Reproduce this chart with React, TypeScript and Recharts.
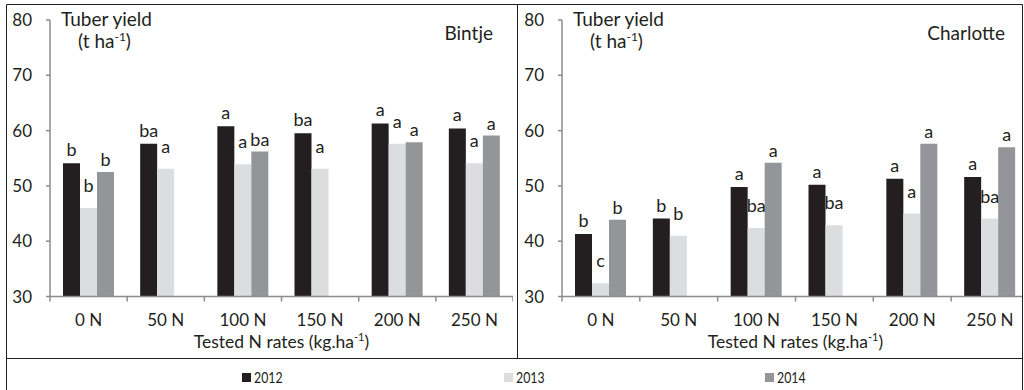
import React from 'react';
import { BarChart, Bar, XAxis, YAxis, LabelList } from 'recharts';

// ---------- data ----------
const categories = ['0 N', '50 N', '100 N', '150 N', '200 N', '250 N'];
const years = ['2012', '2013', '2014'];
const yTicks = [30, 40, 50, 60, 70, 80];

const bintje2012 = [54.1, 57.6, 60.8, 59.5, 61.3, 60.4];
const bintje2013 = [46.0, 53.1, 53.9, 53.1, 57.6, 54.1];
const bintje2014 = [52.5, null, 56.2, null, 57.9, 59.1];
const bintjeLetters2012 = ['b', 'ba', 'a', 'ba', 'a', 'a'];
const bintjeLetters2013 = ['b', 'a', 'a', 'a', 'a', 'a'];
const bintjeLetters2014 = ['b', '', 'ba', '', 'a', 'a'];

const charlotte2012 = [41.3, 44.1, 49.8, 50.2, 51.3, 51.6];
const charlotte2013 = [32.4, 41.0, 42.4, 42.9, 45.0, 44.1];
const charlotte2014 = [43.9, null, 54.2, null, 57.6, 57.0];
const charlotteLetters2012 = ['b', 'b', 'a', 'a', 'a', 'a'];
const charlotteLetters2013 = ['c', 'b', 'ba', 'ba', 'a', 'ba'];
const charlotteLetters2014 = ['b', '', 'a', '', 'a', 'a'];

// ---------- style ----------
const FONT = 'Lato, "Noto Sans", sans-serif';
const TEXT = '#231f20';
const AXIS = '#8c8c8c';
const COLORS = ['#231f20', '#dcdddf', '#939598'];
const LABEL_OFFSETS = [7, 16, 6];

type Row = Record<string, any>;

function buildRows(
  v12: (number | null)[], v13: (number | null)[], v14: (number | null)[],
  l12: string[], l13: string[], l14: string[]
): Row[] {
  return categories.map((c, i) => ({
    cat: c,
    y2012: v12[i], y2013: v13[i], y2014: v14[i],
    l2012: l12[i], l2013: l13[i], l2014: l14[i],
  }));
}

const bintjeRows = buildRows(bintje2012, bintje2013, bintje2014, bintjeLetters2012, bintjeLetters2013, bintjeLetters2014);
const charlotteRows = buildRows(charlotte2012, charlotte2013, charlotte2014, charlotteLetters2012, charlotteLetters2013, charlotteLetters2014);

const CHART_H = 358;
const Y_AXIS_W = 50;
const TOP = 20;
const X_AXIS_H = 61.5;

function makeXTick(band: number, count: number) {
  return (props: any) => {
    const { x, y, payload, index } = props;
    const marks = [x - band / 2];
    if (index === count - 1) marks.push(x + band / 2);
    return (
      <g>
        {marks.map((mx, k) => (
          <line key={k} x1={mx} x2={mx} y1={y} y2={y + 5} stroke={AXIS} strokeWidth={1.5} />
        ))}
        <text x={x} y={y + 29.5} textAnchor="middle" fill={TEXT} fontSize={17} fontFamily={FONT}>
          {payload.value}
        </text>
      </g>
    );
  };
}

function XTitle(props: any) {
  const vb = props.viewBox || {};
  const cx = vb.x + vb.width / 2;
  const y = vb.y + 51;
  return (
    <text x={cx} y={y} textAnchor="middle" fill={TEXT} fontSize={17.5} fontFamily={FONT}>
      <tspan>Tested N rates (kg.ha</tspan>
      <tspan dy={-7} fontSize={11}>-1</tspan>
      <tspan dy={7}>)</tspan>
    </text>
  );
}

function makeYTitle(name: string, nameX: number) {
  return (props: any) => {
    const vb = props.viewBox || {};
    const ax = vb.x + vb.width;
    const top = vb.y;
    return (
      <g>
        <text x={ax + 11} y={top + 6} fill={TEXT} fontSize={19} fontFamily={FONT}>Tuber yield</text>
        <text x={ax + 28} y={top + 28} fill={TEXT} fontSize={19} fontFamily={FONT}>
          <tspan>(t ha</tspan>
          <tspan dy={-7} fontSize={12}>-1</tspan>
          <tspan dy={7}>)</tspan>
        </text>
        <text x={nameX} y={top + 20} textAnchor="end" fill={TEXT} fontSize={19} fontFamily={FONT}>{name}</text>
      </g>
    );
  };
}

function Panel({ rows, name, width }: { rows: Row[]; name: string; width: number }) {
  const plotW = width - Y_AXIS_W;
  const band = plotW / categories.length;
  return (
    <BarChart
      width={width}
      height={CHART_H}
      data={rows}
      margin={{ top: TOP, right: 0, bottom: 0, left: 0 }}
      barGap={0}
      barSize={17}
    >
      <YAxis
        type="number"
        domain={[30, 80]}
        ticks={yTicks}
        allowDataOverflow
        width={Y_AXIS_W}
        axisLine={{ stroke: AXIS, strokeWidth: 1.5 }}
        tickLine={{ stroke: AXIS, strokeWidth: 1.5 }}
        tickSize={4}
        tickMargin={14}
        tick={{ fill: TEXT, fontSize: 17, fontFamily: FONT }}
        label={{ content: makeYTitle(name, 493) }}
      />
      <XAxis
        dataKey="cat"
        height={X_AXIS_H}
        interval={0}
        axisLine={{ stroke: AXIS, strokeWidth: 1.5 }}
        tickLine={false}
        tickSize={0}
        tickMargin={0}
        tick={makeXTick(band, categories.length)}
        label={{ content: XTitle }}
      />
      {years.map((yr, i) => (
        <Bar key={yr} dataKey={'y' + yr} name={yr} fill={COLORS[i]} isAnimationActive={false}>
          <LabelList
            dataKey={'l' + yr}
            position="top"
            offset={LABEL_OFFSETS[i]}
            fill={TEXT}
            fontSize={18}
            fontFamily={FONT}
          />
        </Bar>
      ))}
    </BarChart>
  );
}

function LegendBox() {
  const starts = [242, 503.5, 765];
  return (
    <>
      {years.map((yr, i) => (
        <div
          key={yr}
          style={{
            position: 'absolute',
            left: starts[i],
            top: 368,
            height: 18,
            display: 'flex',
            alignItems: 'center',
            fontFamily: FONT,
            fontSize: 15,
            color: TEXT,
            whiteSpace: 'nowrap',
          }}
        >
          <div style={{ width: 9, height: 9, background: COLORS[i], marginRight: 3 }} />
          <span style={{ display: 'inline-block', transform: 'scaleX(0.82)', transformOrigin: 'left center' }}>{yr}</span>
        </div>
      ))}
    </>
  );
}

export default function App() {
  return (
    <div
      style={{
        position: 'absolute',
        left: 0,
        top: 0,
        width: 1024,
        height: 390,
        overflow: 'hidden',
        background: '#ffffff',
      }}
    >
      <div style={{ position: 'absolute', left: 0, top: 0, width: 515, height: CHART_H, overflow: 'hidden' }}>
        <Panel rows={bintjeRows} name="Bintje" width={513} />
      </div>
      <div style={{ position: 'absolute', left: 512, top: 0, width: 510, height: CHART_H, overflow: 'hidden' }}>
        <Panel rows={charlotteRows} name="Charlotte" width={517} />
      </div>
      <LegendBox />
      <svg
        width={1024}
        height={390}
        style={{ position: 'absolute', left: 0, top: 0, pointerEvents: 'none' }}
      >
        <line x1={6.5} x2={1022.5} y1={4.5} y2={4.5} stroke={TEXT} strokeWidth={1} />
        <line x1={6.5} x2={6.5} y1={4.5} y2={390} stroke={TEXT} strokeWidth={1} />
        <line x1={1022.5} x2={1022.5} y1={4.5} y2={390} stroke={TEXT} strokeWidth={1} />
        <line x1={517.5} x2={517.5} y1={4.5} y2={358.5} stroke={TEXT} strokeWidth={1} />
        <line x1={6.5} x2={1022.5} y1={358.5} y2={358.5} stroke={TEXT} strokeWidth={1} />
      </svg>
    </div>
  );
}
